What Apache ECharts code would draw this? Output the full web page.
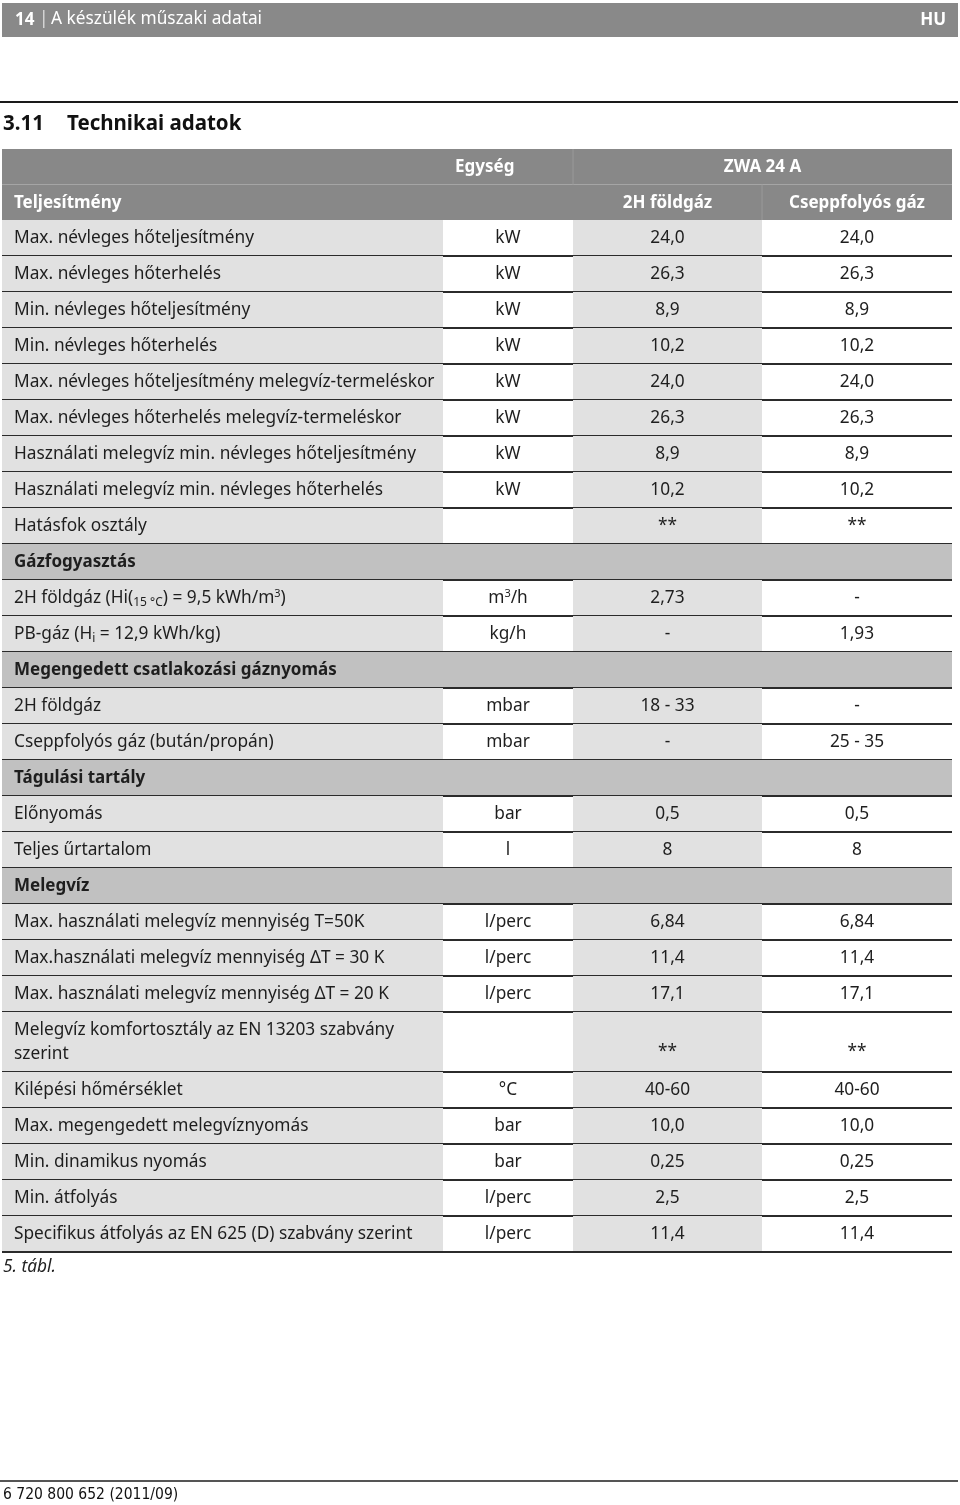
<!DOCTYPE html>
<html>
<head>
<meta charset="utf-8">
<script src="https://cdn.jsdelivr.net/npm/echarts@6/dist/echarts.min.js"></script>
<style>
  html, body { margin: 0; padding: 0; background: #fff; }
  #techTable { width: 960px; height: 1505px; }
</style>
</head>
<body>
<div id="techTable"></div>
<script>
// table content
var headTop = ['', 'Egység', 'ZWA 24 A'];
var headSub = ['Teljesítmény', '', '2H földgáz', 'Cseppfolyós gáz'];

var labels = [
  'Max. névleges hőteljesítmény',
  'Max. névleges hőterhelés',
  'Min. névleges hőteljesítmény',
  'Min. névleges hőterhelés',
  'Max. névleges hőteljesítmény melegvíz-termeléskor',
  'Max. névleges hőterhelés melegvíz-termeléskor',
  'Használati melegvíz min. névleges hőteljesítmény',
  'Használati melegvíz min. névleges hőterhelés',
  'Hatásfok osztály',
  'Gázfogyasztás',
  '2H földgáz (Hi({sub|15 °C}) = 9,5 kWh/m{sup|3})',
  'PB-gáz (H{sub|i} = 12,9 kWh/kg)',
  'Megengedett csatlakozási gáznyomás',
  '2H földgáz',
  'Cseppfolyós gáz (bután/propán)',
  'Tágulási tartály',
  'Előnyomás',
  'Teljes űrtartalom',
  'Melegvíz',
  'Max. használati melegvíz mennyiség T=50K',
  'Max.használati melegvíz mennyiség ΔT = 30 K',
  'Max. használati melegvíz mennyiség ΔT = 20 K',
  'Melegvíz komfortosztály az EN 13203 szabvány\nszerint',
  'Kilépési hőmérséklet',
  'Max. megengedett melegvíznyomás',
  'Min. dinamikus nyomás',
  'Min. átfolyás',
  'Specifikus átfolyás az EN 625 (D) szabvány szerint'
];
// null = section title row
var units = ['kW', 'kW', 'kW', 'kW', 'kW', 'kW', 'kW', 'kW', '', null,
  'm{sup|3}/h', 'kg/h', null, 'mbar', 'mbar', null, 'bar', 'l', null,
  'l/perc', 'l/perc', 'l/perc', '', '°C', 'bar', 'bar', 'l/perc', 'l/perc'];
var natGas = ['24,0', '26,3', '8,9', '10,2', '24,0', '26,3', '8,9', '10,2', '**', null,
  '2,73', '-', null, '18 - 33', '-', null, '0,5', '8', null,
  '6,84', '11,4', '17,1', '**', '40-60', '10,0', '0,25', '2,5', '11,4'];
var lpg = ['24,0', '26,3', '8,9', '10,2', '24,0', '26,3', '8,9', '10,2', '**', null,
  '-', '1,93', null, '-', '25 - 35', null, '0,5', '8', null,
  '6,84', '11,4', '17,1', '**', '40-60', '10,0', '0,25', '2,5', '11,4'];

// layout
var FONT = '"Noto Sans", "Open Sans", sans-serif';
var FS = 17.3;
var TABLE_W = 950;
var COL_EDGES = [0, 441, 571, 760, 950];
var HEAD_H = 35.5, ROW_H = 36, LINE_H = 24;

var rows = [{ kind: 'head1' }, { kind: 'head2' }];
labels.forEach(function (l, i) {
  rows.push({ kind: units[i] === null ? 'section' : 'body', idx: i });
});
var tableData = [];
var acc = 0;
rows.forEach(function (r, i) {
  var h;
  if (r.kind === 'head1' || r.kind === 'head2') h = HEAD_H;
  else h = ROW_H + (labels[r.idx].split('\n').length - 1) * LINE_H;
  tableData.push([i, acc, acc + h]);
  acc += h;
});
var TABLE_H = acc;

var rich = {
  sub: { fontSize: 12, lineHeight: 12, verticalAlign: 'bottom', fontFamily: FONT, fill: '#1e1e1e' },
  sup: { fontSize: 11, lineHeight: 11, verticalAlign: 'top', fontFamily: FONT, fill: '#1e1e1e' }
};

function txt(s, x, y, opt) {
  opt = opt || {};
  return {
    type: 'text',
    style: {
      text: s, x: x, y: y,
      fill: opt.fill || '#1e1e1e',
      fontFamily: FONT,
      fontSize: opt.bold ? 17 : FS,
      fontWeight: opt.bold ? 'bold' : 'normal',
      align: opt.align || 'center',
      verticalAlign: opt.va || 'middle',
      lineHeight: opt.lh || 20,
      rich: rich
    }
  };
}

function renderCell(params, api) {
  var r = rows[api.value(0)];
  var p0 = api.coord([0, api.value(1)]);
  var p1 = api.coord([TABLE_W, api.value(2)]);
  var xs = COL_EDGES.map(function (e) { return api.coord([e, 0])[0]; });
  var y0 = p0[1], y1 = p1[1], ym = (y0 + y1) / 2 + 0.5;
  var kids = [];
  function rect(xa, xb, fill) {
    kids.push({ type: 'rect', shape: { x: xa, y: y0, width: xb - xa, height: y1 - y0 }, style: { fill: fill } });
  }
  function hline(color) {
    kids.push({ type: 'line', shape: { x1: xs[0], y1: y1, x2: xs[4], y2: y1 }, style: { stroke: color, lineWidth: 2 } });
  }
  if (r.kind === 'head1') {
    rect(xs[0], xs[4], '#888888');
    kids.push({ type: 'line', shape: { x1: xs[2], y1: y0, x2: xs[2], y2: y1 }, style: { stroke: '#999', lineWidth: 1 } });
    kids.push(txt(headTop[1], xs[1] + 12, ym, { bold: true, fill: '#fff', align: 'left' }));
    kids.push(txt(headTop[2], (xs[2] + xs[4]) / 2, ym, { bold: true, fill: '#fff' }));
  } else if (r.kind === 'head2') {
    rect(xs[0], xs[4], '#888888');
    kids.push({ type: 'line', shape: { x1: xs[3], y1: y0, x2: xs[3], y2: y1 }, style: { stroke: '#999', lineWidth: 1 } });
    kids.push(txt(headSub[0], xs[0] + 12, ym, { bold: true, fill: '#fff', align: 'left' }));
    kids.push(txt(headSub[2], (xs[2] + xs[3]) / 2, ym, { bold: true, fill: '#fff' }));
    kids.push(txt(headSub[3], (xs[3] + xs[4]) / 2, ym, { bold: true, fill: '#fff' }));
  } else if (r.kind === 'section') {
    rect(xs[0], xs[4], '#c1c1c1');
    kids.push(txt(labels[r.idx], xs[0] + 12, ym, { bold: true, align: 'left' }));
    hline('#2b2b2b');
  } else {
    rect(xs[0], xs[1], '#e1e1e1');
    rect(xs[2], xs[3], '#e1e1e1');
    var multi = labels[r.idx].indexOf('\n') >= 0;
    if (multi) {
      kids.push(txt(labels[r.idx], xs[0] + 12, y0 + 6.5, { align: 'left', va: 'top', lh: LINE_H }));
    } else {
      kids.push(txt(labels[r.idx], xs[0] + 12, ym, { align: 'left' }));
    }
    var vy = multi ? y1 - 20 : ym;
    kids.push(txt(units[r.idx], (xs[1] + xs[2]) / 2, vy));
    kids.push(txt(natGas[r.idx], (xs[2] + xs[3]) / 2, vy));
    kids.push(txt(lpg[r.idx], (xs[3] + xs[4]) / 2, vy));
    hline('#2b2b2b');
  }
  return { type: 'group', children: kids };
}

var chart = echarts.init(document.getElementById('techTable'));
chart.setOption({
  backgroundColor: '#fff',
  animation: false,
  grid: { left: 2, top: 149, width: TABLE_W, height: TABLE_H },
  xAxis: { type: 'value', min: 0, max: TABLE_W, show: false },
  yAxis: { type: 'value', min: 0, max: TABLE_H, inverse: true, show: false },
  series: [{
    type: 'custom',
    silent: true,
    clip: false,
    encode: { x: -1, y: [1, 2] },
    renderItem: renderCell,
    data: tableData
  }],
  graphic: [
    { type: 'rect', left: 2, top: 3, shape: { width: 956, height: 34 }, style: { fill: '#898989' } },
    { type: 'text', left: 15, top: 12, style: { text: '14', fill: '#fff', font: 'bold 17px ' + FONT } },
    { type: 'text', left: 39, top: 11, style: { text: '|', fill: '#ddd', font: '17.3px ' + FONT } },
    { type: 'text', left: 51, top: 11, style: { text: 'A készülék műszaki adatai', fill: '#fff', font: '17.3px ' + FONT } },
    { type: 'text', right: 14, top: 12, style: { text: 'HU', fill: '#fff', font: 'bold 17px ' + FONT } },
    { type: 'line', shape: { x1: 0, y1: 102, x2: 958, y2: 102 }, style: { stroke: '#1a1a1a', lineWidth: 2 } },
    { type: 'text', left: 3, top: 114, style: { text: '3.11', fill: '#111', font: 'bold 20.5px ' + FONT } },
    { type: 'text', left: 67, top: 114, style: { text: 'Technikai adatok', fill: '#111', font: 'bold 20.5px ' + FONT } },
    { type: 'text', left: 3, top: 1259, style: { text: '5. tábl.', fill: '#222', font: 'italic 17.3px ' + FONT } },
    { type: 'line', shape: { x1: 0, y1: 1481, x2: 958, y2: 1481 }, style: { stroke: '#555', lineWidth: 2 } },
    { type: 'text', left: 3, top: 1487, style: { text: '6 720 800 652 (2011/09)', fill: '#111', font: '15.5px "Liberation Sans Narrow", "DejaVu Sans Condensed", sans-serif' } }
  ]
});
</script>
</body>
</html>
